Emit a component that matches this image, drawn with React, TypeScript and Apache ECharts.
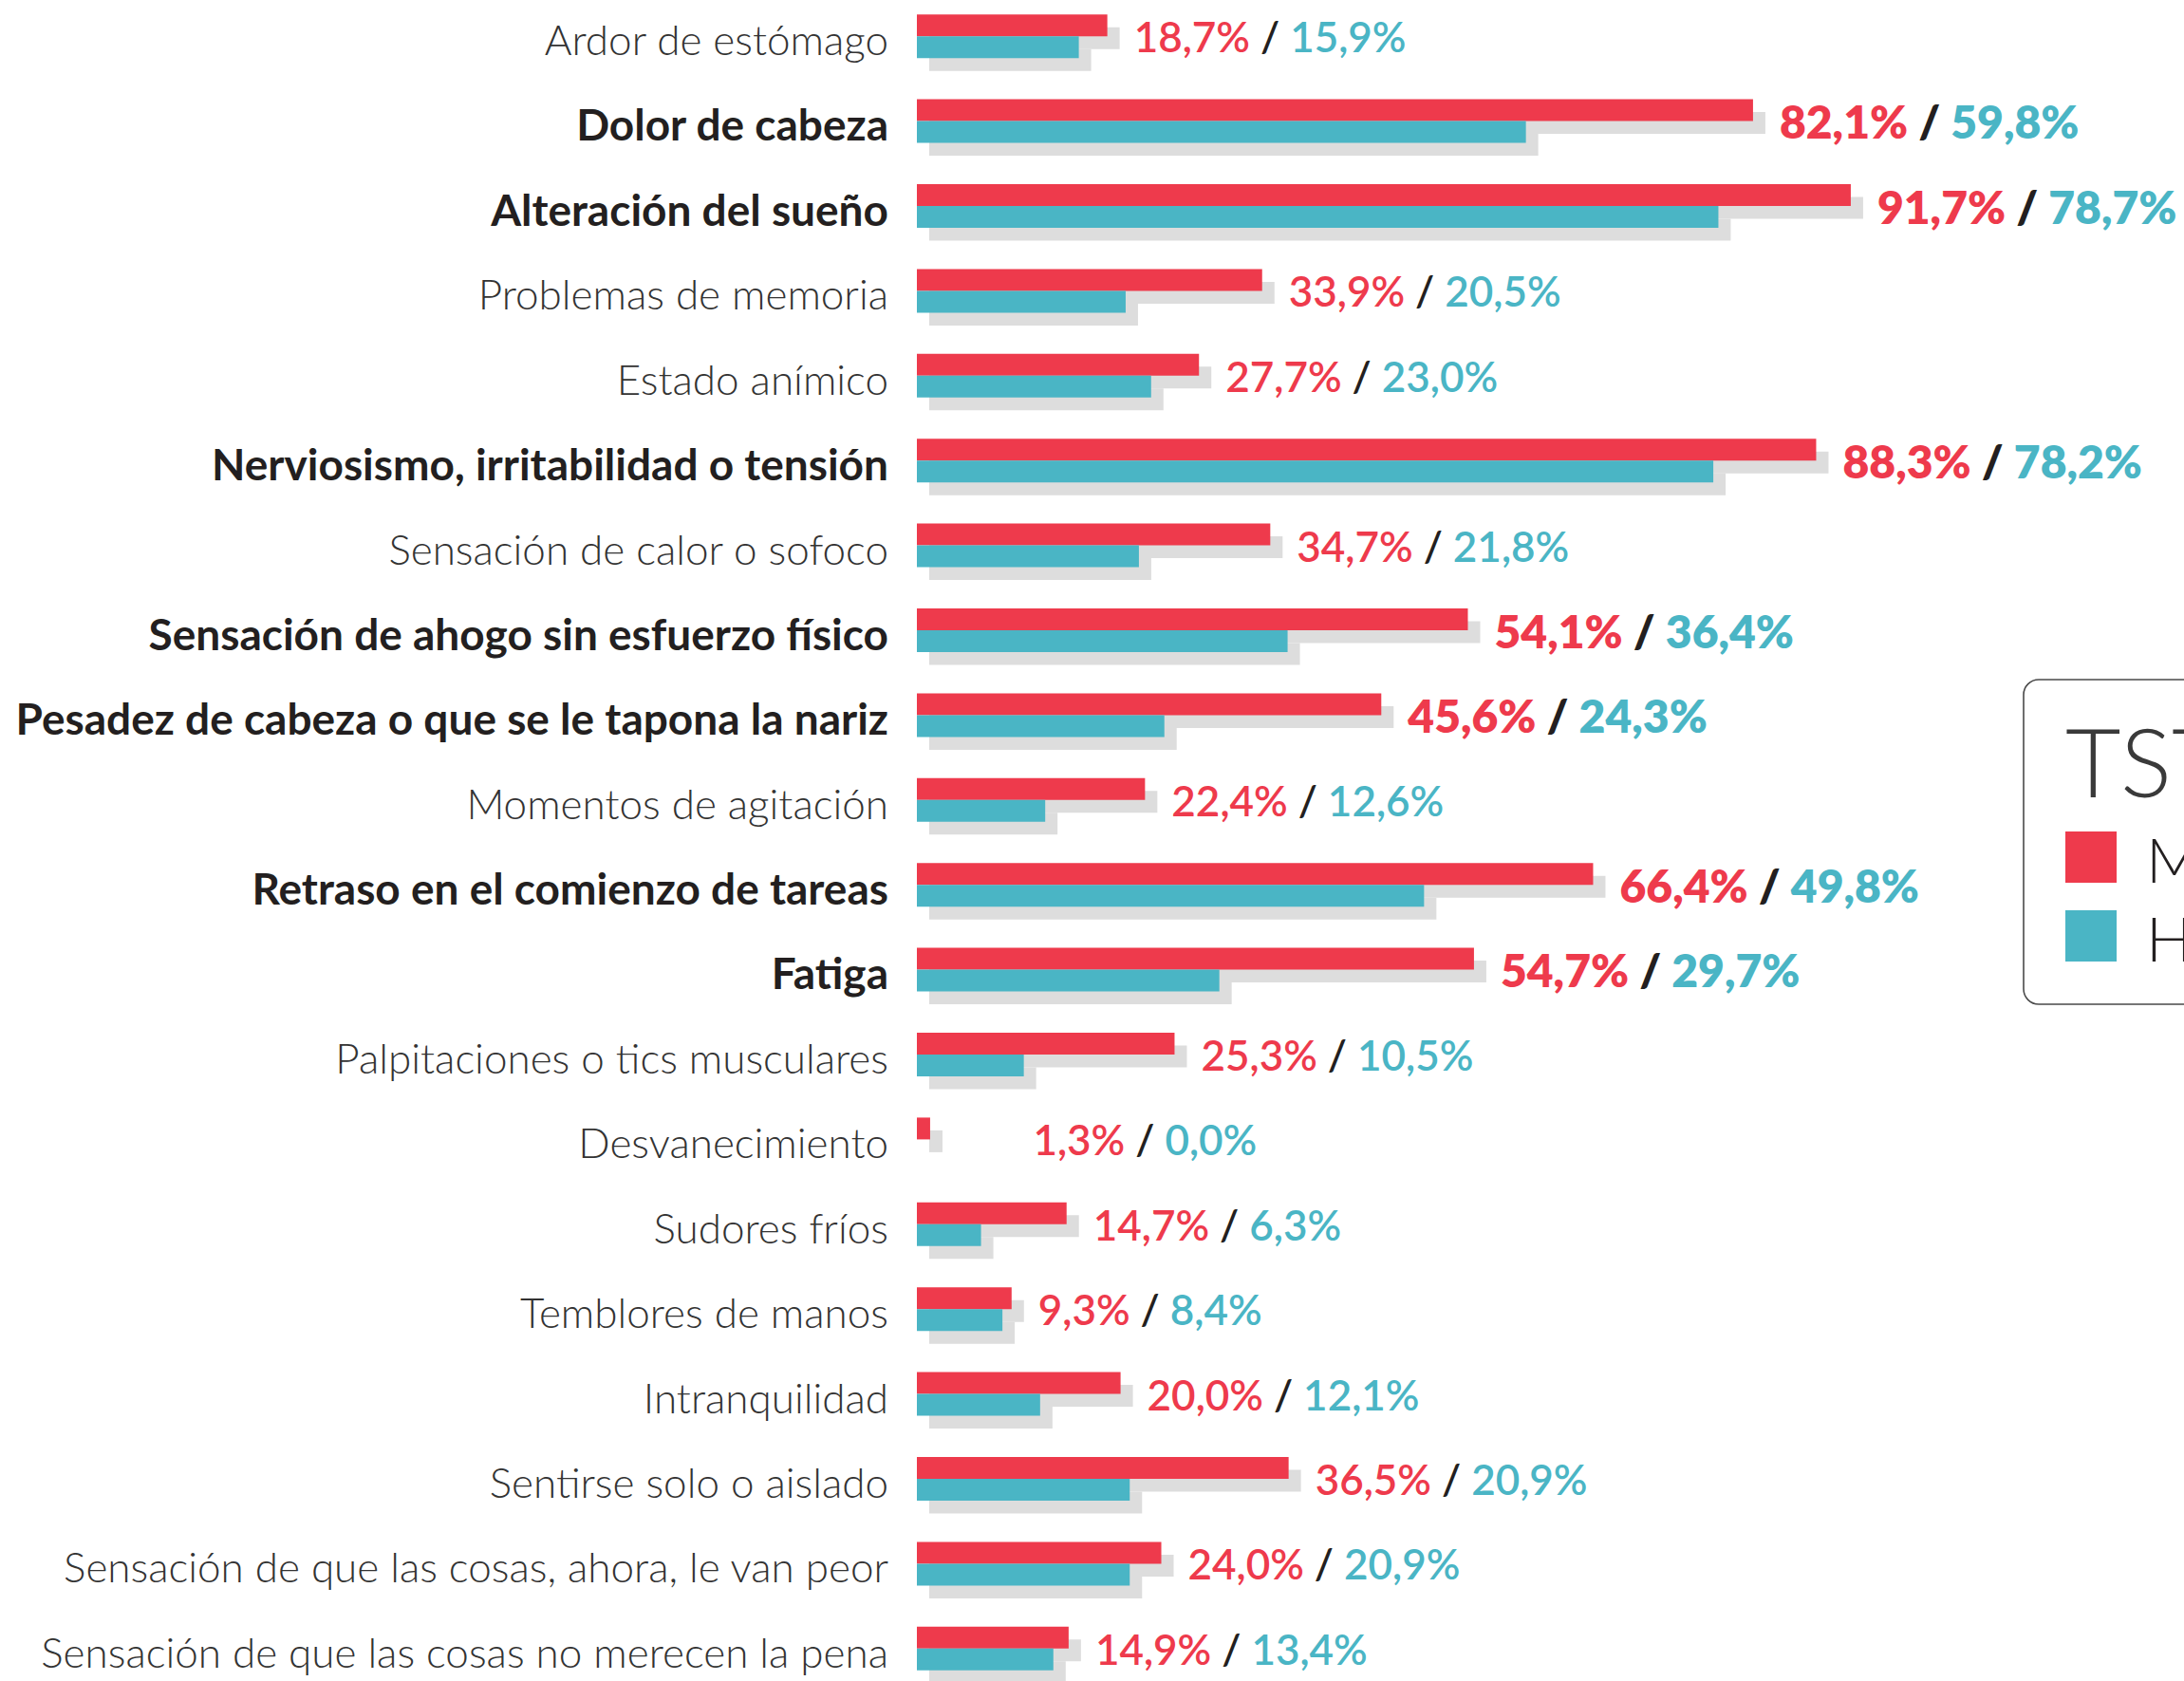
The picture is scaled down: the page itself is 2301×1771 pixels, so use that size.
import React, { useEffect, useRef } from "react";
import * as echarts from "echarts";

const categories = [
  "Ardor de estómago",
  "Dolor de cabeza",
  "Alteración del sueño",
  "Problemas de memoria",
  "Estado anímico",
  "Nerviosismo, irritabilidad o tensión",
  "Sensación de calor o sofoco",
  "Sensación de ahogo sin esfuerzo físico",
  "Pesadez de cabeza o que se le tapona la nariz",
  "Momentos de agitación",
  "Retraso en el comienzo de tareas",
  "Fatiga",
  "Palpitaciones o tics musculares",
  "Desvanecimiento",
  "Sudores fríos",
  "Temblores de manos",
  "Intranquilidad",
  "Sentirse solo o aislado",
  "Sensación de que las cosas, ahora, le van peor",
  "Sensación de que las cosas no merecen la pena",
];

const mujeres = [18.7, 82.1, 91.7, 33.9, 27.7, 88.3, 34.7, 54.1, 45.6, 22.4, 66.4, 54.7, 25.3, 1.3, 14.7, 9.3, 20.0, 36.5, 24.0, 14.9];
const hombres = [15.9, 59.8, 78.7, 20.5, 23.0, 78.2, 21.8, 36.4, 24.3, 12.6, 49.8, 29.7, 10.5, 0.0, 6.3, 8.4, 12.1, 20.9, 20.9, 13.4];

const highlighted = [
  "Dolor de cabeza",
  "Alteración del sueño",
  "Nerviosismo, irritabilidad o tensión",
  "Sensación de ahogo sin esfuerzo físico",
  "Pesadez de cabeza o que se le tapona la nariz",
  "Retraso en el comienzo de tareas",
  "Fatiga",
];

const legendTitle = "TSTA";
const legendNames = ["Mujeres", "Hombres"];

const RED = "#EE3A4C";
const TEAL = "#4AB5C5";
const SHADOW = "#DDDDDD";
const FONT = "Lato";

const fmt = (v: number) => v.toFixed(1).replace(".", ",") + "%";

export default function App() {
  const ref = useRef<HTMLDivElement>(null);
  useEffect(() => {
    document.body.style.margin = "0";
    if (!ref.current) return;
    const chart = echarts.init(ref.current, undefined, { renderer: "svg" });

    const gridLeft = 966;
    const gridWidth = 1073;
    const gridTop = -6.5;
    const gridHeight = 1788;
    const pxPerPct = gridWidth / 100;
    const barW = 23;
    const dx = 13;
    const dy = 13.5;

    const redData = mujeres.map((v, i) => {
      const isB = highlighted.includes(categories[i]);
      const extra = Math.max(0, (8.8 - v) * pxPerPct);
      return {
        value: v,
        label: {
          distance: 28 + extra,
          formatter: isB
            ? `{rb|${fmt(v)}}{sb| / }{tb|${fmt(hombres[i])}}`
            : `{r|${fmt(v)}}{s| / }{t|${fmt(hombres[i])}}`,
        },
      };
    });

    const option: any = {
      animation: false,
      backgroundColor: "#ffffff",
      grid: [
        { left: gridLeft, top: gridTop, width: gridWidth, height: gridHeight, outerBoundsMode: "none", containLabel: false },
        { left: gridLeft + dx, top: gridTop + dy, width: gridWidth, height: gridHeight, outerBoundsMode: "none", containLabel: false },
      ],
      xAxis: [
        { type: "value", gridIndex: 0, min: 0, max: 100, show: false },
        { type: "value", gridIndex: 1, min: 0, max: 100, show: false },
      ],
      yAxis: [
        {
          type: "category",
          gridIndex: 0,
          data: categories,
          inverse: true,
          axisLine: { show: false },
          axisTick: { show: false },
          splitLine: { show: false },
          axisLabel: {
            margin: 30,
            fontFamily: FONT,
            fontSize: 44,
            formatter: (value: string) =>
              highlighted.includes(value) ? `{b|${value}}` : `{n|${value}}`,
            rich: {
              n: { fontFamily: FONT, fontWeight: 300, fontSize: 44, color: "#333333", padding: [6, 0, 0, 0] },
              b: { fontFamily: FONT, fontWeight: 700, fontSize: 46, color: "#231F20", padding: [6, 0, 0, 0] },
            },
          },
        },
        {
          type: "category",
          gridIndex: 1,
          data: categories,
          inverse: true,
          show: false,
        },
      ],
      series: [
        {
          type: "bar",
          xAxisIndex: 1,
          yAxisIndex: 1,
          data: mujeres,
          barWidth: barW,
          barGap: "0%",
          itemStyle: { color: SHADOW },
          z: 1,
          silent: true,
        },
        {
          type: "bar",
          xAxisIndex: 1,
          yAxisIndex: 1,
          data: hombres,
          barWidth: barW,
          barGap: "0%",
          itemStyle: { color: SHADOW },
          z: 1,
          silent: true,
        },
        {
          name: legendNames[0],
          type: "bar",
          xAxisIndex: 0,
          yAxisIndex: 0,
          data: redData,
          barWidth: barW,
          barGap: "0%",
          itemStyle: { color: RED },
          z: 3,
          label: {
            show: true,
            position: "right",
            offset: [0, barW / 2],
            fontFamily: FONT,
            rich: {
              r: { fontFamily: FONT, fontWeight: 600, fontSize: 44, color: RED },
              s: { fontFamily: FONT, fontWeight: 600, fontSize: 44, color: "#231F20" },
              t: { fontFamily: FONT, fontWeight: 600, fontSize: 44, color: TEAL },
              rb: { fontFamily: FONT, fontWeight: 800, fontSize: 48, color: RED },
              sb: { fontFamily: FONT, fontWeight: 800, fontSize: 48, color: "#231F20" },
              tb: { fontFamily: FONT, fontWeight: 800, fontSize: 48, color: TEAL },
            },
          },
        },
        {
          name: legendNames[1],
          type: "bar",
          xAxisIndex: 0,
          yAxisIndex: 0,
          data: hombres,
          barWidth: barW,
          barGap: "0%",
          itemStyle: { color: TEAL },
          z: 3,
        },
      ],
      graphic: [
        {
          type: "rect",
          shape: { x: 2132, y: 716, width: 420, height: 342, r: 16 },
          style: { fill: "#ffffff", stroke: "#4A4A4A", lineWidth: 1.6 },
          z: 10,
        },
        {
          type: "text",
          x: 2176,
          y: 801,
          style: {
            text: legendTitle,
            font: `300 101px ${FONT}`,
            fill: "#3A3A3A",
            verticalAlign: "middle",
            align: "left",
          },
          z: 11,
        },
        {
          type: "rect",
          shape: { x: 2176, y: 876, width: 54, height: 54 },
          style: { fill: RED },
          z: 11,
        },
        {
          type: "rect",
          shape: { x: 2176, y: 959, width: 54, height: 54 },
          style: { fill: TEAL },
          z: 11,
        },
        {
          type: "text",
          x: 2261,
          y: 905,
          style: { text: legendNames[0], font: `300 65px ${FONT}`, fill: "#231F20", verticalAlign: "middle", align: "left" },
          z: 11,
        },
        {
          type: "text",
          x: 2261,
          y: 988,
          style: { text: legendNames[1], font: `300 65px ${FONT}`, fill: "#231F20", verticalAlign: "middle", align: "left" },
          z: 11,
        },
      ],
    };

    chart.setOption(option);
    return () => chart.dispose();
  }, []);

  return <div ref={ref} style={{ width: 2301, height: 1771 }} />;
}
